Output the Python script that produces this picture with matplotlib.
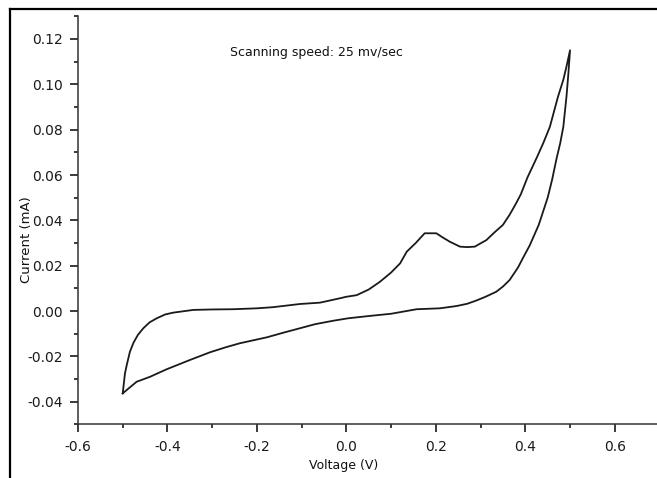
import matplotlib
matplotlib.use("Agg")
import matplotlib.pyplot as plt
from matplotlib.lines import Line2D
from matplotlib.ticker import MultipleLocator

# Forward (anodic) sweep: -0.5 V -> 0.5 V
fwd_v = [-0.500, -0.495, -0.491, -0.484, -0.476, -0.466, -0.454, -0.440, -0.424, -0.405,
         -0.387, -0.342, -0.300, -0.253, -0.200, -0.164, -0.104, -0.059, -0.015, 0.000,
         0.023, 0.050, 0.075, 0.100, 0.120, 0.135, 0.155, 0.175, 0.201, 0.215, 0.231,
         0.254, 0.270, 0.287, 0.313, 0.330, 0.350, 0.365, 0.378, 0.390, 0.405, 0.425,
         0.440, 0.455, 0.473, 0.485, 0.492, 0.500]
fwd_i = [-0.0363, -0.0275, -0.0238, -0.0180, -0.0140, -0.0105, -0.0076, -0.0050, -0.0032, -0.0015,
         -0.0007, 0.0005, 0.0007, 0.0008, 0.0012, 0.0017, 0.0031, 0.0037, 0.0056, 0.0063,
         0.0070, 0.0095, 0.0129, 0.0170, 0.0210, 0.0262, 0.0300, 0.0343, 0.0343, 0.0325, 0.0306,
         0.0284, 0.0282, 0.0284, 0.0313, 0.0345, 0.0380, 0.0425, 0.0470, 0.0515, 0.0590, 0.0674,
         0.0740, 0.0813, 0.0945, 0.1020, 0.1078, 0.1150]

# Reverse (cathodic) sweep: 0.5 V -> -0.5 V
rev_v = [0.500, 0.496, 0.492, 0.485, 0.478, 0.470, 0.460, 0.450, 0.440, 0.430, 0.410,
         0.395, 0.384, 0.365, 0.350, 0.335, 0.310, 0.290, 0.270, 0.246, 0.209, 0.157,
         0.100, 0.050, 0.004, -0.030, -0.070, -0.104, -0.140, -0.178, -0.238, -0.270,
         -0.305, -0.350, -0.402, -0.439, -0.469, -0.500]
rev_i = [0.1150, 0.1040, 0.0945, 0.0813, 0.0740, 0.0674, 0.0580, 0.0500, 0.0440, 0.0380, 0.0290,
         0.0235, 0.0193, 0.0137, 0.0108, 0.0085, 0.0062, 0.0046, 0.0032, 0.0022, 0.0012, 0.0008,
         -0.0012, -0.0022, -0.0032, -0.0043, -0.0058, -0.0076, -0.0095, -0.0116, -0.0142, -0.0160,
         -0.0182, -0.0216, -0.0257, -0.0290, -0.0312, -0.0363]

xticks = [-0.6, -0.4, -0.2, 0.0, 0.2, 0.4, 0.6]
yticks = [-0.04, -0.02, 0.00, 0.02, 0.04, 0.06, 0.08, 0.10, 0.12]

plt.rcParams['font.family'] = ['DejaVu Sans']
plt.rcParams['axes.unicode_minus'] = False

fig = plt.figure(figsize=(6.57, 4.78), dpi=100)
ax = fig.add_axes([78/657, 1-424.4/478, (659.5-78)/657, (424.4-16.3)/478])

ax.plot(fwd_v + rev_v, fwd_i + rev_i, color='#1a1a1a', lw=1.3)

ax.set_xlim(-0.6, 0.7)
ax.set_ylim(-0.05, 0.13)
ax.set_xticks(xticks)
ax.set_xticklabels([f"{t:.1f}" for t in xticks])
ax.set_yticks(yticks)
ax.set_yticklabels([f"{t:.2f}" for t in yticks])
ax.xaxis.set_minor_locator(MultipleLocator(0.1))
ax.yaxis.set_minor_locator(MultipleLocator(0.01))
ax.tick_params(which='major', direction='out', length=6, width=1.2, pad=5, labelsize=10, colors='#1a1a1a')
ax.tick_params(which='minor', direction='out', length=3, width=1.2, colors='#1a1a1a')

for s in ['top', 'right']:
    ax.spines[s].set_visible(False)
for s in ['left', 'bottom']:
    ax.spines[s].set_linewidth(1.1)
    ax.spines[s].set_color('#333333')

ax.set_xlabel('Voltage (V)', fontsize=9, color='#111111')
ax.set_ylabel('Current (mA)', fontsize=9.5, color='#111111')
ax.xaxis.set_label_coords(0.456, -0.085)
ax.yaxis.set_label_coords(-0.077, 0.452)

ax.text(-0.066, 0.114, 'Scanning speed: 25 mv/sec', fontsize=9, ha='center', va='center', color='#111111')

# outer frame lines (top and left)
fig.add_artist(Line2D([10/657, 10/657], [0, 1-9/478], transform=fig.transFigure, color='black', lw=1.6))
fig.add_artist(Line2D([10/657, 1], [1-9/478, 1-9/478], transform=fig.transFigure, color='black', lw=1.6))

fig.savefig('out.png', dpi=100)
